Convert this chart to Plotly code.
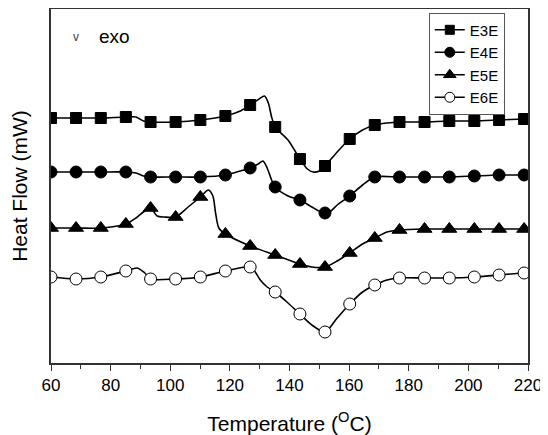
import plotly.graph_objects as go

# Marker temperatures (°C)
marker_T = [60, 68.4, 76.7, 85.1, 93.4, 101.8, 110.1, 118.5, 126.8, 135.2,
            143.5, 151.9, 160.2, 168.6, 176.9, 185.3, 193.6, 202.0, 210.3, 218.7]

# Marker heat-flow values (arbitrary mW offset units)
e3e_marker = [24.5, 24.5, 24.5, 24.6, 24.1, 24.1, 24.3, 24.7, 25.8, 23.6,
              20.4, 19.7, 22.4, 23.8, 24.1, 24.1, 24.2, 24.2, 24.3, 24.4]
e4e_marker = [19.1, 19.1, 19.1, 19.1, 18.6, 18.6, 18.6, 18.8, 19.5, 17.6,
              16.3, 15.0, 16.7, 18.6, 18.6, 18.6, 18.6, 18.7, 18.8, 18.8]
e5e_marker = [13.5, 13.5, 13.5, 13.9, 15.5, 14.6, 16.6, 12.9, 11.7, 10.8,
              9.9, 9.6, 11.0, 12.5, 13.3, 13.4, 13.4, 13.4, 13.4, 13.4]
e6e_marker = [8.6, 8.4, 8.6, 9.2, 8.4, 8.4, 8.6, 9.2, 9.6, 7.1,
              4.9, 3.1, 5.9, 7.8, 8.5, 8.5, 8.5, 8.6, 8.8, 9.0]

# Continuous traces
e3e_T = [60, 68.4, 76.7, 85.1, 88.5, 91.0, 93.4, 101.8, 110.1, 118.5, 123.5, 126.8, 129.8, 131.6,
         132.9, 134.0, 135.2, 139.5, 143.5, 146.0, 148.0, 150.0, 151.9, 156.0, 160.2, 164.5,
         168.6, 172.7, 176.9, 185.3, 193.6, 202.0, 210.3, 218.7, 219.8]
e3e_v = [24.5, 24.5, 24.5, 24.6, 24.6, 24.2, 24.1, 24.1, 24.3, 24.7, 25.2, 25.8, 26.4, 26.7,
         26.0, 24.6, 23.6, 22.3, 20.4, 19.4, 19.1, 19.2, 19.7, 21.1, 22.4, 23.3,
         23.8, 24.0, 24.1, 24.1, 24.2, 24.2, 24.3, 24.4, 24.4]

e4e_T = [60, 68.4, 76.7, 85.1, 88.5, 91.0, 93.4, 101.8, 110.1, 118.5, 123.5, 126.8, 129.5, 131.1,
         132.5, 134.0, 135.2, 139.5, 143.5, 147.5, 150.5, 151.9, 153.5, 156.0, 160.2, 164.5,
         168.6, 176.9, 185.3, 193.6, 202.0, 210.3, 218.7, 219.8]
e4e_v = [19.1, 19.1, 19.1, 19.1, 19.0, 18.7, 18.6, 18.6, 18.6, 18.8, 19.2, 19.5, 19.9, 20.2,
         19.5, 18.3, 17.6, 16.7, 16.3, 15.6, 15.1, 15.0, 15.1, 15.8, 16.7, 17.8,
         18.6, 18.6, 18.6, 18.6, 18.7, 18.8, 18.8, 18.8]

e5e_T = [60, 68.4, 76.7, 85.1, 88.5, 91.0, 93.4, 95.6, 98.0, 101.8, 106.0, 110.1, 112.8, 114.3,
         115.2, 116.3, 118.5, 126.8, 135.2, 143.5, 147.5, 151.9, 156.0, 160.2, 164.5, 168.6,
         172.7, 176.9, 185.3, 193.6, 202.0, 210.3, 218.7, 219.8]
e5e_v = [13.5, 13.5, 13.5, 13.9, 14.5, 15.1, 15.5, 14.7, 14.6, 14.6, 15.6, 16.6, 17.3, 16.7,
         15.0, 13.5, 12.9, 11.7, 10.8, 9.9, 9.6, 9.6, 10.2, 11.0, 11.9, 12.5,
         13.1, 13.3, 13.4, 13.4, 13.4, 13.4, 13.4, 13.4]

e6e_T = [60, 68.4, 76.7, 85.1, 88.9, 91.5, 93.4, 101.8, 110.1, 118.5, 126.8, 128.5, 130.2, 132.5,
         135.2, 139.5, 143.5, 147.5, 151.9, 156.0, 160.2, 164.5, 168.6, 172.7, 176.9, 185.3,
         193.6, 202.0, 210.3, 218.7, 219.8]
e6e_v = [8.6, 8.4, 8.6, 9.2, 9.5, 9.0, 8.4, 8.4, 8.6, 9.2, 9.6, 9.1, 8.3, 7.6,
         7.1, 6.0, 4.9, 3.8, 3.1, 4.5, 5.9, 7.1, 7.8, 8.3, 8.5, 8.5,
         8.5, 8.6, 8.8, 9.0, 9.0]

names = ["E3E", "E4E", "E5E", "E6E"]
symbols = ["square", "circle", "triangle-up", "circle-open"]
sizes = [11, 12, 13, 12]
legend_sizes = [9, 10, 11, 10]
lines_T = [e3e_T, e4e_T, e5e_T, e6e_T]
lines_v = [e3e_v, e4e_v, e5e_v, e6e_v]
markers_v = [e3e_marker, e4e_marker, e5e_marker, e6e_marker]

x_ticks = [60, 80, 100, 120, 140, 160, 180, 200, 220]

FONT = "Arial, Liberation Sans, sans-serif"


def marker_style(sym, size):
    hollow = sym == "circle-open"
    return dict(symbol="circle" if hollow else sym, size=size,
                color="white" if hollow else "black", line=dict(color="black", width=1))


fig = go.Figure()
for name, sym, sz, lsz, lt, lv, mv in zip(names, symbols, sizes, legend_sizes, lines_T, lines_v, markers_v):
    fig.add_trace(go.Scatter(x=lt, y=lv, mode="lines",
                             line=dict(color="black", width=1.6, shape="spline", smoothing=0.8),
                             showlegend=False, hoverinfo="skip"))
    fig.add_trace(go.Scatter(x=marker_T, y=mv, mode="markers", marker=marker_style(sym, sz),
                             showlegend=False, name=name))
    fig.add_trace(go.Scatter(x=[None], y=[None], mode="lines+markers", name=name,
                             line=dict(color="black", width=1.6), marker=marker_style(sym, lsz)))

# The page body adds an 8px offset, so the figure is sized to fit the window.
fig.update_layout(
    width=540, height=427,
    margin=dict(l=43, r=20, t=1, b=72, autoexpand=False),
    paper_bgcolor="white", plot_bgcolor="white",
    font=dict(family=FONT, color="black"),
    showlegend=True,
    legend=dict(x=0.792, y=0.99, xanchor="left", yanchor="top",
                bordercolor="#555", borderwidth=1, bgcolor="white",
                font=dict(size=15, family=FONT), itemwidth=30, tracegroupgap=0,
                entrywidth=38, entrywidthmode="pixels"),
    xaxis=dict(range=[60, 220], tickvals=x_ticks, ticktext=[str(t) for t in x_ticks],
               ticks="outside", ticklen=6, tickwidth=1.2, tickcolor="#333",
               minor=dict(dtick=10, ticks="outside", ticklen=4, tickwidth=1.2, tickcolor="#333"),
               showline=True, linecolor="#333", linewidth=1.5, mirror=True,
               showgrid=False, zeroline=False, automargin=False,
               tickfont=dict(size=17, family=FONT),
               title=dict(text="Temperature (<sup>O</sup>C)", font=dict(size=21, family=FONT), standoff=22)),
    yaxis=dict(range=[0, 35.4], showticklabels=False, ticks="",
               showline=True, linecolor="#333", linewidth=1.5, mirror=True,
               showgrid=False, zeroline=False, automargin=False,
               title=dict(text="Heat Flow (mW)", font=dict(size=21, family=FONT), standoff=20)),
    annotations=[
        dict(text="v", x=(76 - 51) / 477, y=(363 - 37) / 354, xref="paper", yref="paper",
             showarrow=False, font=dict(size=12, family=FONT, color="#444"), xanchor="center", yanchor="middle"),
        dict(text="exo", x=(97 - 51) / 477, y=(363 - 36) / 354, xref="paper", yref="paper",
             showarrow=False, font=dict(size=19, family=FONT), xanchor="left", yanchor="middle"),
    ],
)

fig.write_html("out.html")
